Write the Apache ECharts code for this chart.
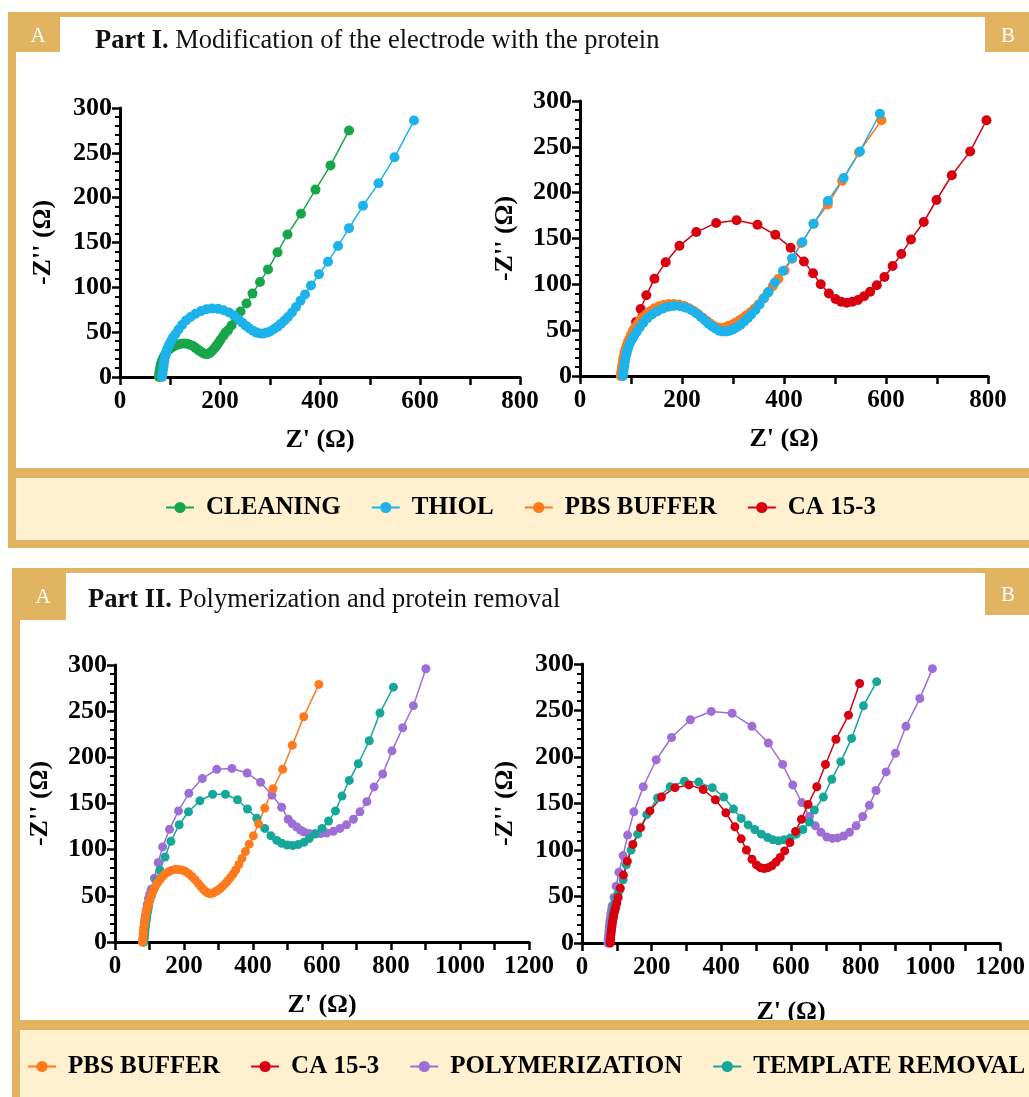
<!DOCTYPE html>
<html>
<head>
<meta charset="utf-8">
<script src="https://cdn.jsdelivr.net/npm/echarts@6/dist/echarts.min.js"></script>
<style>
html,body{margin:0;padding:0;background:#fff;}
#chart{width:1029px;height:1097px;}
</style>
</head>
<body>
<div id="chart"></div>
<script>
// ---------- DATA (Z' , -Z'') in ohm ----------
const cleaning = [[78,0],[78.5,3],[79,6],[80,9],[81,12],[82,15],[84,18],[86,21],[89,24],[92,27],[96,29.5],[100,31.5],[105,33.5],[110,35],[116,36.2],[122,37],[128,37.3],[134,37],[140,36],[146,34.5],[151,32.5],[156,30.5],[161,28.5],[165,27],[169,26],[173,25.5],[177,26],[181,27.5],[185,29.5],[189,32],[193,35],[197,38],[201,41.5],[206,45.5],[211,49.5],[216,52],[223,57.5],[232,64],[241,73],[253,82],[265,93],[280,106],[296,120],[315,139],[335,159],[362,182],[391,209],[421,236],[458,275]];

const thiol = [[84,0],[85,4],[86,8],[87,12],[88,16],[89,20],[91,24],[93,28],[95,32],[98,36],[102,40],[106,44],[111,48],[117,53],[124,58],[132,63],[141,67],[151,70.5],[162,73.5],[173,75.5],[184,76.5],[196,76],[207,74.5],[218,72],[228,68.5],[237,64.5],[245,60.5],[252,57],[259,54],[266,51.5],[273,49.5],[280,48.5],[287,48.5],[294,49.5],[301,51],[308,53.5],[315,56],[322,59.5],[329,63],[336,67],[344,72],[352,78],[361,85],[370,92],[382,102],[398,114.5],[416,128.5],[436,146],[458,166],[486,191],[517,216],[549,245],[588,286]];

const pbsBuffer = [[80,0],[81,4],[82,8],[83,12],[84,16],[85,20],[87,25],[89,29],[91,33],[94,37],[97,41],[100,45],[104,49],[108,53],[113,57],[118,61],[124,64.5],[131,68],[138,71],[146,74],[155,76],[164,77.5],[174,78.5],[184,78.5],[194,78],[204,76.5],[214,74],[223,71],[232,67.5],[241,63.5],[249,60],[256,57],[263,54.5],[270,53],[277,52.5],[284,53],[291,54.5],[298,56],[305,58],[312,60.5],[319,63],[326,66],[334,69.5],[342,73.5],[350,78],[359,84],[368,90.5],[378,98],[389,106],[401,115],[416,128],[434,145],[458,166],[486,187],[514,213],[547,244],[591,279]];

const ca153 = [[81,0],[81.5,3],[82,6],[83,9],[84,12],[85,15],[86,18],[87,21],[88,24],[90,27],[91,30],[93,33],[95,36],[97,39],[100,43],[104,49],[110,59],[119,73],[130,88],[146,106],[168,124],[195,142],[228,157],[267,167],[307,170],[348,165],[383,154],[413,140],[439,125],[457,112],[472,100],[488,90],[501,84],[512,81],[523,80],[534,81],[545,83],[557,87],[569,92],[582,99],[597,108],[613,120],[630,133],[649,149],[674,168],[699,192],[729,219],[765,245],[797,279]];

// Part II, panel A
const polymerizationA = [[80,0],[81,4],[82,8],[83,12],[84,16],[85,20],[87,24],[88,28],[90,32],[92,36],[94,41],[97,47],[101,52],[105,57],[114,69],[125,86],[138,103],[158,122],[184,142],[214,161],[253,177],[295,187],[339,188],[383,183],[422,173],[455,159],[483,146],[502,133],[514,128],[527,124.5],[538,121],[548,119],[563,117.5],[580,117.5],[596,117.5],[613,118],[633,120],[652,123],[671,127],[691,133],[710,141],[730,152],[751,168],[776,182],[803,207],[834,232],[865,256],[901,296]];

const templateRemovalA = [[84,0],[85,4],[86,8],[87,12],[88,16],[89,20],[91,24],[92,28],[94,32],[96,36],[98,40],[101,45],[105,50],[111,56],[121,67],[130,78],[145,92],[162,109],[186,127],[213,141],[246,153],[283,160],[320,160],[355,154],[384,144],[411,134],[434,123],[452,115],[469,110],[483,107],[499,105],[515,104.5],[531,105.5],[548,108],[563,112],[580,117],[600,123],[619,131],[639,142],[658,158],[679,175],[705,193],[737,218],[768,248],[807,276]];

// Part II, panel B
const polymerizationB = [[74,0],[75,4],[76,8],[77,12],[78,16],[79,20],[80,24],[82,28],[83,32],[85,36],[87,40],[92,49],[98,61],[106,76],[118,94],[131,116],[149,141],[176,168],[213,197],[257,221],[311,240],[371,249],[431,247],[488,233],[535,215],[576,192],[605,170],[631,151],[653,136],[670,126],[686,119],[703,114],[719,112.5],[734,113],[751,115],[768,119],[787,126],[806,136],[825,148],[844,164],[873,184],[900,204],[930,233],[970,263],[1006,295]];

const templateRemovalB = [[80,0],[81,4],[82,8],[83,12],[84,16],[85,20],[86,24],[88,28],[89,32],[91,36],[93,40],[95,44],[98,48],[102,52],[108,57],[118,68],[127,84],[141,100],[160,117],[186,138],[217,156],[253,168],[294,174],[335,173],[374,167],[407,157],[435,144],[457,134],[477,127],[496,122],[515,117],[533,113.5],[548,111],[564,110],[580,111],[598,113],[615,117],[634,122],[653,130],[667,143],[693,157],[717,176],[743,195],[774,220],[808,255],[846,281]];

// axis setup values
const xMaxPart1 = 800, xMaxPart2 = 1200, yMax = 300;
const legendPart1 = ['CLEANING','THIOL','PBS BUFFER','CA 15-3'];
const legendPart2 = ['PBS BUFFER','CA 15-3','POLYMERIZATION','TEMPLATE REMOVAL'];
const titlePart1 = '{b|Part I.} Modification of the electrode with the protein';
const titlePart2 = '{b|Part II.} Polymerization and protein removal';

// ---------- STYLE ----------
const COLORS = {
  'CLEANING':'#19a64b', 'THIOL':'#1db2ea', 'PBS BUFFER':'#ff7a1c',
  'CA 15-3':'#d8000f', 'POLYMERIZATION':'#9d6fd6', 'TEMPLATE REMOVAL':'#16a79a'
};
const GOLD = '#e2b462', CREAM = '#fff1d0';
const FONT = '"Liberation Serif", "Times New Roman", serif';

const chart = echarts.init(document.getElementById('chart'), null, {renderer:'canvas'});

const grids = [
  {left:120, top:108, width:400, height:269},
  {left:580, top:101, width:408, height:275},
  {left:115, top:665, width:414, height:277},
  {left:582, top:664, width:418, height:279}
];

function xAxis(i, max, gap) {
  return {
    type:'value', gridIndex:i, min:0, max:max, interval:100,
    name:"Z' (Ω)", nameLocation:'middle', nameGap:gap,
    nameTextStyle:{fontFamily:FONT, fontWeight:'bold', fontSize:26, color:'#000'},
    axisLine:{show:true, onZero:false, lineStyle:{color:'#000', width:3}},
    axisTick:{show:true, length:8, lineStyle:{color:'#000', width:2.5}},
    splitLine:{show:false},
    axisLabel:{margin:12, fontFamily:FONT, fontWeight:'bold', fontSize:25, color:'#000',
      formatter:v => (v % 200 === 0 ? String(v) : '')}
  };
}
function yAxis(i, gap) {
  return {
    type:'value', gridIndex:i, min:0, max:yMax, interval:50,
    name:"-Z'' (Ω)", nameLocation:'middle', nameGap:gap,
    nameTextStyle:{fontFamily:FONT, fontWeight:'bold', fontSize:26, color:'#000'},
    axisLine:{show:true, onZero:false, lineStyle:{color:'#000', width:3}},
    axisTick:{show:true, length:8, lineStyle:{color:'#000', width:2.5}},
    minorTick:{show:true, splitNumber:5, length:5, lineStyle:{color:'#000', width:2}},
    splitLine:{show:false},
    axisLabel:{margin:8, fontFamily:FONT, fontWeight:'bold', fontSize:26, color:'#000'}
  };
}
function ser(name, data, g, size) {
  return {
    type:'line', name:name, data:data, xAxisIndex:g, yAxisIndex:g,
    symbol:'circle', symbolSize:size, showSymbol:true,
    itemStyle:{color:COLORS[name]}, lineStyle:{color:COLORS[name], width:1.5},
    animation:false, z:3
  };
}

const legendText = {fontFamily:FONT, fontWeight:'bold', fontSize:25, color:'#000', padding:[0,0,0,7]};

const option = {
  backgroundColor:'#fff',
  animation:false,
  graphic:{elements:[
    // Part I frame
    {type:'rect', z:-10, shape:{x:8, y:12, width:1030, height:536}, style:{fill:GOLD}},
    {type:'rect', z:-9, shape:{x:16, y:17, width:1020, height:451}, style:{fill:'#fff'}},
    {type:'rect', z:-9, shape:{x:16, y:478, width:1020, height:62}, style:{fill:CREAM}},
    {type:'rect', z:-8, shape:{x:16, y:17, width:44, height:35}, style:{fill:GOLD}},
    {type:'rect', z:-8, shape:{x:985, y:17, width:50, height:35}, style:{fill:GOLD}},
    {type:'text', z:5, x:38, y:36, style:{text:'A', fill:'#fff', font:'21px "Liberation Serif"', align:'center', verticalAlign:'middle'}},
    {type:'text', z:5, x:1008, y:36, style:{text:'B', fill:'#fff', font:'21px "Liberation Serif"', align:'center', verticalAlign:'middle'}},
    // Part II frame
    {type:'rect', z:-10, shape:{x:12, y:568, width:1030, height:540}, style:{fill:GOLD}},
    {type:'rect', z:-9, shape:{x:20, y:573, width:1020, height:447}, style:{fill:'#fff'}},
    {type:'rect', z:-9, shape:{x:20, y:1030, width:1020, height:80}, style:{fill:CREAM}},
    {type:'rect', z:50, shape:{x:20, y:1020, width:1020, height:10}, style:{fill:GOLD}},
    {type:'rect', z:-8, shape:{x:20, y:573, width:46, height:47}, style:{fill:GOLD}},
    {type:'rect', z:-8, shape:{x:985, y:573, width:50, height:42}, style:{fill:GOLD}},
    {type:'text', z:5, x:43, y:597, style:{text:'A', fill:'#fff', font:'21px "Liberation Serif"', align:'center', verticalAlign:'middle'}},
    {type:'text', z:5, x:1008, y:595, style:{text:'B', fill:'#fff', font:'21px "Liberation Serif"', align:'center', verticalAlign:'middle'}}
  ]},
  title:[
    {text:titlePart1, left:95, top:28, padding:0,
     textStyle:{fontFamily:FONT, fontWeight:'normal', fontSize:26.5, color:'#111',
       rich:{b:{fontFamily:FONT, fontWeight:'bold', fontSize:26.5, color:'#111'}}}},
    {text:titlePart2, left:88, top:587, padding:0,
     textStyle:{fontFamily:FONT, fontWeight:'normal', fontSize:26.5, color:'#111',
       rich:{b:{fontFamily:FONT, fontWeight:'bold', fontSize:26.5, color:'#111'}}}}
  ],
  legend:[
    {data:legendPart1, left:165, top:495, padding:0, itemWidth:28, itemHeight:14, itemGap:30,
     selectedMode:false, textStyle:legendText},
    {data:legendPart2, left:27, top:1054, padding:0, itemWidth:28, itemHeight:14, itemGap:30,
     selectedMode:false, textStyle:legendText}
  ],
  grid:grids,
  xAxis:[xAxis(0, xMaxPart1, 50), xAxis(1, xMaxPart1, 50), xAxis(2, xMaxPart2, 50), xAxis(3, xMaxPart2, 56)],
  yAxis:[yAxis(0, 64), yAxis(1, 62), yAxis(2, 62), yAxis(3, 64)],
  series:[
    ser('CLEANING', cleaning, 0, 10),
    ser('THIOL', thiol, 0, 10),
    ser('CA 15-3', ca153, 1, 10),
    ser('PBS BUFFER', pbsBuffer, 1, 10),
    ser('THIOL', thiol, 1, 10),
    ser('POLYMERIZATION', polymerizationA, 2, 9),
    ser('TEMPLATE REMOVAL', templateRemovalA, 2, 9),
    ser('PBS BUFFER', pbsBuffer, 2, 9),
    ser('POLYMERIZATION', polymerizationB, 3, 9),
    ser('TEMPLATE REMOVAL', templateRemovalB, 3, 9),
    ser('CA 15-3', ca153, 3, 9)
  ]
};
chart.setOption(option);
</script>
</body>
</html>
